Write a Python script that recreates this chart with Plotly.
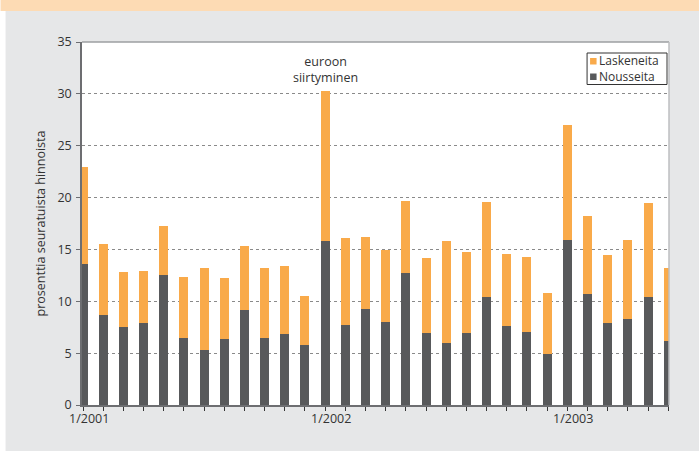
import plotly.graph_objects as go

months = [f"{m}/{y}" for y in (2001, 2002, 2003) for m in range(1, 13)][:30]
nousseita = [13.6, 8.7, 7.5, 7.9, 12.5, 6.5, 5.3, 6.4, 9.2, 6.5, 6.8, 5.8,
             15.8, 7.7, 9.3, 8.0, 12.7, 6.9, 6.0, 6.9, 10.4, 7.6, 7.0, 4.9,
             15.9, 10.7, 7.9, 8.3, 10.4, 6.2]
laskeneita = [9.3, 6.8, 5.3, 5.0, 4.8, 5.8, 7.9, 5.8, 6.1, 6.7, 6.6, 4.7,
              14.5, 8.4, 6.9, 6.9, 7.0, 7.3, 9.8, 7.9, 9.2, 7.0, 7.3, 5.9,
              11.1, 7.5, 6.6, 7.6, 9.1, 7.0]
year_labels = ["1/2001", "1/2002", "1/2003"]
y_ticks = [0, 5, 10, 15, 20, 25, 30, 35]
series_names = ["Laskeneita", "Nousseita"]

DARK = "#58595b"
ORANGE = "#f9aa4a"
FONT = "Open Sans"
TXT = "#333333"

fig = go.Figure()
fig.add_trace(go.Bar(x=months, y=nousseita, name=series_names[1], marker_color=DARK,
                     marker_line_width=0, showlegend=False))
fig.add_trace(go.Bar(x=months, y=laskeneita, name=series_names[0], marker_color=ORANGE,
                     marker_line_width=0, showlegend=False))

W, H = 699, 452
L, R, T, B = 81.5, 30, 42, 47
pw, ph = W - L - R, H - T - B

def px2x(p):
    return (p - L) / pw

def px2y(p):
    return 1 - (p - T) / ph

def prect(x0, y0, x1, y1, **kw):
    return dict(type="rect", xref="paper", yref="paper", x0=px2x(x0), x1=px2x(x1),
                y0=px2y(y1), y1=px2y(y0), **kw)

shapes = [
    prect(0, 0, W, H, fillcolor="white", line_width=0, layer="below"),
    prect(5, 11, W, H - 1, fillcolor="#e6e7e8", line_width=0, layer="below"),
    prect(0, 0, W, 11, fillcolor="#fddbb4", line_width=0, layer="below"),
    dict(type="rect", xref="paper", yref="paper", x0=0, x1=1, y0=0, y1=1,
         fillcolor="white", line_width=0, layer="below"),
    dict(type="line", xref="paper", yref="paper", x0=0, x1=1, y0=1, y1=1,
         line=dict(color="#9d9fa2", width=1.5)),
    dict(type="line", xref="paper", yref="paper", x0=1, x1=1, y0=0, y1=1,
         line=dict(color="#bcbec0", width=1.5)),
    # legend box and swatches
    prect(587, 53, 667, 84.5, fillcolor="white", line=dict(color="#333333", width=1)),
    prect(590, 58, 596.5, 64.5, fillcolor=ORANGE, line_width=0),
    prect(590, 73.5, 596.5, 80, fillcolor=DARK, line_width=0),
]

annotations = [
    dict(x=12, y=30.6, xref="x", yref="y", text="euroon<br>siirtyminen", showarrow=False,
         yanchor="bottom", font=dict(family=FONT, size=12.5, color=TXT)),
    dict(x=px2x(596.5), y=px2y(69), xref="paper", yref="paper",
         text="<br>".join(series_names), align="left",
         showarrow=False, xanchor="left", yanchor="middle",
         font=dict(family=FONT, size=12, color=TXT)),
]
for lab in year_labels:
    idx = months.index(lab)
    annotations.append(dict(x=idx + 0.3, y=px2y(418), xref="x", yref="paper", text=lab,
                            showarrow=False, yanchor="middle",
                            font=dict(family=FONT, size=12.5, color=TXT)))

fig.update_layout(
    width=W, height=H,
    margin=dict(l=L, r=R, t=T, b=B, pad=0),
    barmode="stack", bargap=0.555,
    paper_bgcolor="white", plot_bgcolor="white",
    font=dict(family=FONT, size=12.5, color=TXT),
    shapes=shapes, annotations=annotations,
    showlegend=False,
    xaxis=dict(type="category", range=[-0.05, 29.04], showticklabels=False,
               ticks="outside", ticklen=4, tickcolor=TXT,
               showline=True, linecolor="#6d6e71", linewidth=1.5, showgrid=False),
    yaxis=dict(range=[0, 35], tickvals=y_ticks, ticks="outside", ticklen=4,
               tickcolor="#6d6e71", showline=True, linecolor="#6d6e71", linewidth=1.5,
               showgrid=True, gridcolor="#8a8a8a", griddash="dot", gridwidth=1,
               zeroline=False, ticklabelstandoff=2,
               title=dict(text="prosenttia seuratuista hinnoista", standoff=9,
                          font=dict(family=FONT, size=12.5, color=TXT))),
)

fig.write_html("out.html", config={"displayModeBar": False})

with open("out.html", "r", encoding="utf-8") as f:
    html = f.read()
html = html.replace("<body>", '<body style="margin:0;padding:0;overflow:hidden">', 1)
with open("out.html", "w", encoding="utf-8") as f:
    f.write(html)
